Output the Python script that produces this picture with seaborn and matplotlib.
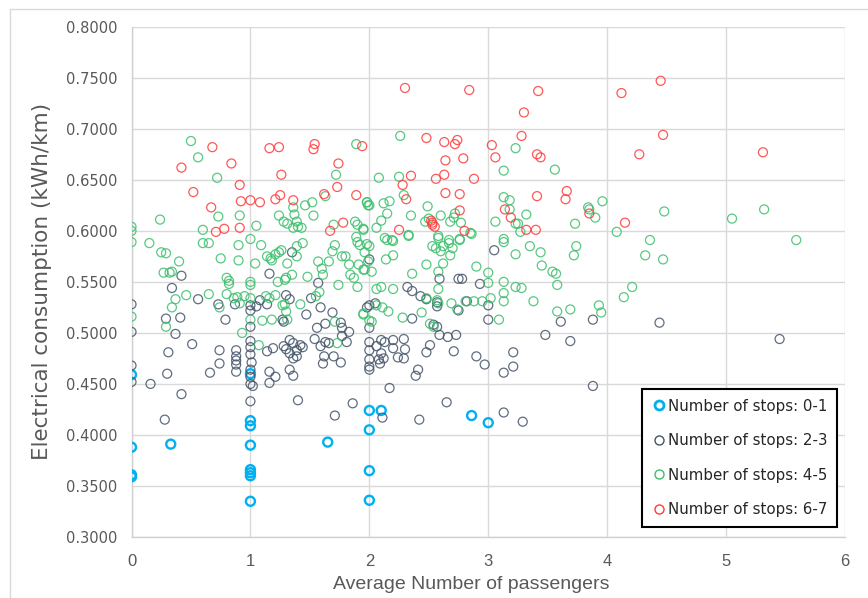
import matplotlib
matplotlib.use("Agg")
import matplotlib.pyplot as plt
from matplotlib.lines import Line2D
from matplotlib import font_manager
import seaborn as sns
import pandas as pd
import numpy as np

# ---------------- data ----------------
series_names = ["Number of stops: 0-1", "Number of stops: 2-3",
                "Number of stops: 4-5", "Number of stops: 6-7"]

stops01_x = [0, 0, 0, 0, 0.33, 1, 1, 1, 1, 1, 1, 1, 1, 1.65, 2, 2, 2, 2, 2.10, 2.86, 3.0]
stops01_y = [0.459, 0.388, 0.361, 0.359, 0.391, 0.460, 0.414, 0.409, 0.390, 0.366, 0.363,
             0.360, 0.335, 0.393, 0.424, 0.405, 0.365, 0.336, 0.424, 0.419, 0.412]

stops23_x = [0, 0, 0, 0, 0.16, 0.30, 0.31, 0.37, 0.29, 0.41, 0.34, 0.42, 0.56, 0.51, 0.66, 0.74,
             0.74, 0.79, 0.73, 0.87, 0.88, 0.88, 0.88, 0.88, 0.88, 1.0, 1.0, 1.0, 1.0, 1.0, 1.0,
             1.01, 1.0, 1.0, 1.0, 1.02, 1.05, 1.08, 1.14, 1.16, 1.14, 1.19, 1.16, 1.21, 1.16, 1.27,
             1.28, 1.30, 1.33, 1.35, 1.28, 1.30, 1.33, 1.33, 1.36, 1.36, 1.39, 1.42, 1.44, 1.39,
             1.33, 1.36, 1.47, 1.51, 1.59, 1.54, 1.59, 1.63, 1.66, 1.56, 1.69, 1.63, 1.76, 1.77,
             1.83, 1.77, 1.81, 1.62, 1.70, 1.61, 1.76, 1.57, 2.0, 2.0, 2.0, 2.0, 2.0,
             2.05, 1.98, 2.0, 2.0, 2.0, 2.06, 2.10, 2.13, 2.10, 2.12, 2.08, 2.09, 2.20, 2.20, 2.24,
             2.29, 2.30, 2.29, 2.32, 2.36, 2.43, 2.48, 2.36, 2.59, 2.57, 2.57, 2.54, 2.57, 2.59,
             2.66, 2.73, 2.51, 2.48, 2.71, 2.41, 2.39, 2.17, 2.75, 2.78, 2.93, 2.75, 2.82, 3.0,
             3.0, 2.90, 2.97, 3.21, 3.21, 3.13, 3.05, 3.48, 3.61, 3.69, 3.88, 3.88, 4.44, 5.45,
             0.42, 0.28, 1.0, 1.40, 1.71, 1.86, 2.11, 2.42, 2.65, 3.13, 3.29]
stops23_y = [0.528, 0.501, 0.468, 0.452, 0.450, 0.460, 0.481, 0.499, 0.514, 0.515, 0.544, 0.556,
             0.533, 0.489, 0.461, 0.470, 0.483, 0.513, 0.528, 0.528, 0.483, 0.477, 0.473, 0.469,
             0.462, 0.522, 0.527, 0.506, 0.492, 0.486, 0.479, 0.471, 0.464, 0.457, 0.450, 0.448,
             0.526, 0.532, 0.528, 0.558, 0.482, 0.485, 0.462, 0.457, 0.451, 0.513, 0.511, 0.537,
             0.533, 0.579, 0.487, 0.484, 0.493, 0.480, 0.490, 0.475, 0.477, 0.488, 0.486, 0.483,
             0.464, 0.458, 0.518, 0.534, 0.525, 0.494, 0.487, 0.491, 0.490, 0.505, 0.520, 0.509,
             0.510, 0.505, 0.501, 0.497, 0.491, 0.477, 0.477, 0.470, 0.471, 0.549, 0.527, 0.491,
             0.483, 0.464, 0.572,
             0.529, 0.525, 0.505, 0.474, 0.467, 0.487, 0.493, 0.491, 0.480, 0.475, 0.474, 0.470,
             0.493, 0.485, 0.476, 0.494, 0.484, 0.475, 0.545, 0.541, 0.536, 0.533, 0.514, 0.553,
             0.530, 0.526, 0.508, 0.506, 0.498, 0.496, 0.498, 0.488, 0.481, 0.482, 0.464, 0.458,
             0.446, 0.553, 0.553, 0.548, 0.522, 0.531, 0.527, 0.513, 0.477, 0.469, 0.481, 0.467,
             0.461, 0.581, 0.498, 0.511, 0.492, 0.513, 0.448, 0.510, 0.494,
             0.440, 0.415, 0.433, 0.434, 0.419, 0.431, 0.417, 0.415, 0.432, 0.422, 0.413]

stops45_x = [0.50, 0.56, 0.72, 1.72, 1.89, 0.24, 0.73, 0.91, 0.0, 0.0, 0.60, 1.05, 1.24, 1.28,
             1.31, 1.36, 1.37, 1.39, 1.40, 1.36, 1.43, 1.46, 1.52, 1.53, 1.63, 1.70, 1.88, 1.90,
             1.95, 1.98, 1.99, 1.89, 1.0,
             2.26, 3.23, 3.13, 3.56, 2.08, 2.25, 2.29, 1.98, 2.0, 2.12, 2.17, 2.49, 2.15, 2.10,
             2.06, 1.95, 2.35, 2.47, 2.50, 2.60, 2.68, 2.71, 2.72, 2.77, 2.33, 2.58, 2.85, 3.13,
             3.18, 3.18, 3.32, 3.06, 3.23, 3.25, 3.27, 3.13, 3.73, 3.84, 3.85, 3.90, 3.96, 2.13,
             2.19, 2.67, 2.76,
             4.48, 5.05, 5.32, 4.08, 4.36, 5.59,
             0.0, 0.15, 0.25, 0.29, 0.40, 0.27, 0.32, 0.34, 0.60, 0.65, 0.75, 0.90, 0.90, 1.09,
             1.04, 1.14, 1.17, 1.18, 1.21, 1.24, 1.26, 1.31, 1.39, 1.44, 1.39, 0.80, 0.82, 0.82,
             1.0, 1.0, 1.23, 1.29, 1.30, 1.35, 1.48, 1.57, 1.60, 1.61, 1.66, 1.69, 1.71, 1.77,
             1.80, 1.83, 1.84, 1.87, 1.90, 1.74, 1.91, 1.96, 1.99, 1.90, 1.98, 1.58, 1.55, 0.46,
             0.37, 0.34, 0.65, 0.0, 0.29, 0.74, 0.80, 0.86, 0.89, 0.91, 0.95, 1.0, 1.13, 1.16,
             1.21, 1.27, 1.29, 1.30, 1.31, 1.10, 1.18, 1.0, 1.42, 0.93, 1.07, 1.71, 1.73, 1.95, 2.0,
             1.92, 2.0, 1.96, 2.15, 2.20, 2.14, 2.20, 1.95, 2.02, 2.06, 2.10, 2.20, 2.06, 2.11,
             2.16, 1.95, 2.02, 2.28, 2.44, 2.36, 2.33, 2.48, 2.53, 2.58, 2.62, 2.67, 2.76, 2.68,
             2.62, 2.70, 2.56, 2.60, 2.58, 2.58, 2.57, 2.58, 2.48, 2.69, 2.74, 2.81, 2.88, 2.95,
             3.02, 2.51, 2.54, 2.86, 2.90, 3.0, 3.0, 3.13, 3.23, 3.35, 3.44, 3.45, 3.13, 3.13,
             3.13, 3.23, 3.28, 3.38, 3.09, 3.54, 3.57, 3.58, 3.58, 3.69, 3.74, 3.72, 3.93, 3.95,
             4.32, 4.47, 4.21, 4.14]
stops45_y = [0.688, 0.672, 0.652, 0.655, 0.685, 0.611, 0.614, 0.615, 0.604, 0.600, 0.601, 0.605,
             0.615, 0.609, 0.607, 0.623, 0.616, 0.609, 0.604, 0.603, 0.603, 0.625, 0.628, 0.615,
             0.634, 0.606, 0.609, 0.606, 0.602, 0.628, 0.625, 0.594, 0.592,
             0.693, 0.681, 0.659, 0.660, 0.652, 0.653, 0.635, 0.628, 0.625, 0.627, 0.629, 0.624,
             0.617, 0.610, 0.603, 0.601, 0.615, 0.609, 0.612, 0.615, 0.609, 0.613, 0.617, 0.608,
             0.596, 0.595, 0.598, 0.633, 0.630, 0.621, 0.616, 0.609, 0.607, 0.607, 0.599, 0.592,
             0.607, 0.623, 0.621, 0.613, 0.629, 0.593, 0.591, 0.591, 0.592,
             0.619, 0.612, 0.621, 0.599, 0.591, 0.591,
             0.589, 0.588, 0.579, 0.578, 0.570, 0.559, 0.559, 0.560, 0.588, 0.588, 0.573, 0.571,
             0.586, 0.586, 0.568, 0.575, 0.573, 0.571, 0.577, 0.579, 0.581, 0.568, 0.585, 0.588,
             0.575, 0.554, 0.551, 0.548, 0.550, 0.547, 0.550, 0.552, 0.554, 0.557, 0.555, 0.570,
             0.563, 0.557, 0.570, 0.580, 0.586, 0.575, 0.575, 0.567, 0.557, 0.554, 0.545, 0.547,
             0.567, 0.562, 0.570, 0.589, 0.587, 0.540, 0.536, 0.537, 0.533, 0.525, 0.538, 0.516,
             0.506, 0.525, 0.538, 0.534, 0.535, 0.529, 0.536, 0.534, 0.536, 0.534, 0.537, 0.527,
             0.528, 0.521, 0.513, 0.512, 0.513, 0.513, 0.528, 0.500, 0.488, 0.511, 0.490, 0.519,
             0.512,
             0.586, 0.585, 0.579, 0.591, 0.590, 0.572, 0.576, 0.562, 0.560, 0.543, 0.545, 0.543,
             0.527, 0.525, 0.521, 0.518, 0.511, 0.515, 0.520, 0.558, 0.595, 0.567, 0.585, 0.593,
             0.585, 0.588, 0.591, 0.576, 0.568, 0.583, 0.583, 0.580, 0.560, 0.543, 0.532, 0.529,
             0.534, 0.529, 0.523, 0.531, 0.531, 0.531, 0.534, 0.509, 0.506, 0.597, 0.565, 0.559,
             0.549, 0.589, 0.577, 0.585, 0.579, 0.566, 0.550, 0.539, 0.531, 0.545, 0.544, 0.531,
             0.513, 0.560, 0.558, 0.547, 0.521, 0.523, 0.585, 0.576, 0.527, 0.520,
             0.576, 0.572, 0.545, 0.535]

stops67_x = [0.68, 0.42, 0.84, 1.16, 1.24, 1.54, 1.53, 1.94, 1.74, 1.26, 0.91, 0.52, 1.73, 0.67,
             0.92, 1.00, 1.08, 1.21, 1.25, 1.36, 1.62, 1.89, 0.71, 0.78, 0.91, 1.67, 1.78,
             2.30, 2.84, 3.42, 3.30, 3.28, 2.48, 2.63, 2.72, 2.74, 3.03, 3.06, 3.41, 3.44, 2.64,
             2.79, 2.35, 2.56, 2.63, 2.88, 2.28, 2.31, 2.64, 2.76, 3.41, 3.66, 3.65, 3.14, 3.19,
             2.76, 2.52, 2.53, 2.55, 2.53, 2.25, 2.80, 3.32, 3.40, 3.85,
             4.45, 4.12, 4.47, 4.27, 5.31, 4.15]
stops67_y = [0.682, 0.662, 0.666, 0.681, 0.682, 0.685, 0.680, 0.683, 0.666, 0.655, 0.645, 0.638,
             0.643, 0.623, 0.629, 0.630, 0.628, 0.631, 0.635, 0.630, 0.636, 0.635, 0.599, 0.602,
             0.603, 0.600, 0.608,
             0.740, 0.738, 0.737, 0.716, 0.693, 0.691, 0.687, 0.685, 0.689, 0.684, 0.672, 0.675,
             0.672, 0.669, 0.671, 0.654, 0.651, 0.655, 0.651, 0.645, 0.631, 0.637, 0.636, 0.634,
             0.639, 0.631, 0.621, 0.613, 0.620, 0.610, 0.606, 0.604, 0.608, 0.601, 0.600, 0.601,
             0.601, 0.617,
             0.747, 0.735, 0.694, 0.675, 0.677, 0.608]

colors = ["#00B0F0", "#44546A", "#3CBF6C", "#FF3A3A"]
edge_widths = [1.7, 0.9, 0.9, 0.9]

xs = [stops01_x, stops23_x, stops45_x, stops67_x]
ys = [stops01_y, stops23_y, stops45_y, stops67_y]
frames = []
for name, x, y in zip(series_names, xs, ys):
    frames.append(pd.DataFrame({"passengers": x, "consumption": y, "series": name}))
df = pd.concat(frames, ignore_index=True)

# narrow font for x axis texts, if available
available = {f.name for f in font_manager.fontManager.ttflist}
narrow = [f for f in ["DejaVu Sans Condensed", "Liberation Sans Narrow", "Liberation Sans"]
          if f in available] + ["DejaVu Sans"]

# ---------------- figure ----------------
sns.set_theme(style="white")
plt.rcParams["font.family"] = ["DejaVu Sans"]

fig = plt.figure(figsize=(8.68, 5.98), dpi=100)
ax = fig.add_axes([0.1515, 0.102, 0.822, 0.8533])

for name, col, lw in zip(series_names, colors, edge_widths):
    sub = df[df["series"] == name]
    sns.scatterplot(data=sub, x="passengers", y="consumption", ax=ax,
                    marker="o", s=42, facecolor="none", edgecolor=col,
                    linewidth=lw, alpha=0.85 if name != series_names[0] else 1.0,
                    legend=False, zorder=3)

ax.set_xlim(0, 6)
ax.set_ylim(0.3, 0.8)
ax.set_xticks(range(0, 7))
ax.set_yticks(np.arange(0.30, 0.8001, 0.05))
ax.set_yticklabels([f"{v:.4f}" for v in np.arange(0.30, 0.8001, 0.05)])
ax.grid(True, color="#D9D9D9", linewidth=1.0, zorder=0)
ax.set_axisbelow(True)
for side in ["top", "right"]:
    ax.spines[side].set_visible(False)
for side in ["left", "bottom"]:
    ax.spines[side].set_color("#D0D0D0")
    ax.spines[side].set_linewidth(1.0)

ax.tick_params(axis="y", length=0, pad=10, labelsize=10.5, labelcolor="#595959")
ax.tick_params(axis="x", length=0, pad=12, labelsize=12, labelcolor="#595959")
for t in ax.get_xticklabels():
    t.set_family(narrow)

ax.set_xlabel("Average Number of passengers", fontsize=14, color="#595959",
              family=narrow)
ax.xaxis.set_label_coords(0.476, -0.077)
ax.set_ylabel("Electrical consumption (kWh/km)", fontsize=15.5, color="#595959", labelpad=10)

handles = [Line2D([0], [0], marker="o", linestyle="None", markerfacecolor="none",
                  markeredgecolor=c, markersize=6.5, markeredgewidth=w)
           for c, w in zip(colors, [2.0, 1.0, 1.0, 1.0])]
leg = ax.legend(handles, series_names, loc="lower right", bbox_to_anchor=(0.989, 0.02),
                borderaxespad=0, frameon=True, fancybox=False, framealpha=1,
                fontsize=10.8, labelspacing=1.3, handletextpad=0.15, handlelength=0.9,
                borderpad=0.65)
leg.get_frame().set_edgecolor("black")
leg.get_frame().set_linewidth(1.5)
for t in leg.get_texts():
    t.set_color("#262626")

# chart-area border: only the top and left edges fall inside the picture
fig.add_artist(Line2D([10 / 868, 10 / 868], [0, 1 - 9 / 598], transform=fig.transFigure,
                      color="#D9D9D9", linewidth=1.0))
fig.add_artist(Line2D([10 / 868, 1], [1 - 9 / 598, 1 - 9 / 598], transform=fig.transFigure,
                      color="#D9D9D9", linewidth=1.0))

fig.savefig("out.png", dpi=100, facecolor="white")
